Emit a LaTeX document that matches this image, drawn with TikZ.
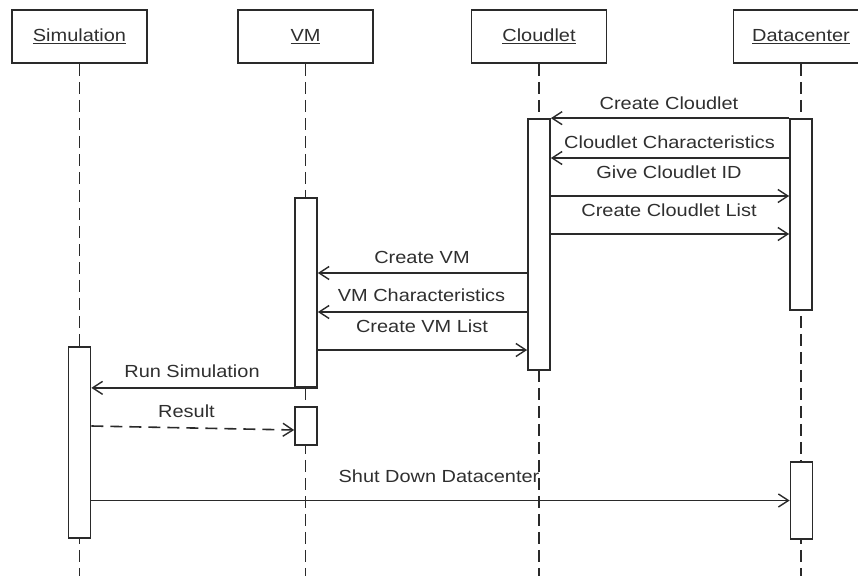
\documentclass[tikz,border=0pt]{standalone}
\usepackage{fontspec}
\setmainfont{Liberation Sans}[FakeStretch=1.14]
\usetikzlibrary{arrows.meta}
\definecolor{linec}{HTML}{2A2A2A}
\definecolor{textc}{HTML}{2F2F2F}
\begin{document}
\begin{tikzpicture}[x=1pt,y=-1pt,
  every node/.style={text=textc},
  headbox/.style={draw=linec, line width=1.7pt, fill=white, minimum width=135pt,
    minimum height=53pt, inner sep=0pt, font=\fontsize{17.5}{20}\selectfont},
  lifeline/.style={draw=linec, line width=1.8pt, dash pattern=on 12pt off 6pt},
  actbar/.style={draw=linec, line width=1.7pt, fill=white, minimum width=22pt, inner sep=0pt},
  msg/.style={draw=linec, line width=1.6pt, -{Straight Barb[length=10pt,width=13pt,line width=1.4pt]}},
  reply/.style={msg, dash pattern=on 12pt off 7pt},
  lbl/.style={anchor=base, inner sep=0pt, font=\fontsize{17.5}{20}\selectfont}]
\useasboundingbox (0,0) rectangle (858,575);
\clip (0,0) rectangle (858,575);

% participants
\node[headbox] (sim) at (79.5,36.5) {\underline{Simulation}};
\node[headbox] (vm)  at (305.5,36.5) {\underline{VM}};
\node[headbox] (cl)  at (539,36.5) {\underline{Cloudlet}};
\node[headbox] (dc)  at (801,36.5) {\underline{Datacenter}};

% lifelines
\coordinate (simend) at (79.5,580);
\coordinate (vmend) at (305.5,580);
\coordinate (clend) at (539,580);
\coordinate (dcend) at (801,580);
\draw[lifeline] (sim.south) -- (simend);
\draw[lifeline] (vm.south) -- (vmend);
\draw[lifeline] (cl.south) -- (clend);
\draw[lifeline] (dc.south) -- (dcend);

% activation bars
\node[actbar, minimum height=251pt] (clbar)  at (539,244.5) {};
\node[actbar, minimum height=191pt] (dcbar)  at (801,214.5) {};
\node[actbar, minimum height=189pt] (vmbar)  at (306,292.5) {};
\node[actbar, minimum height=38pt]  (vmbarb) at (306,426) {};
\node[actbar, minimum height=191pt] (simbar) at (79.5,442.5) {};
\node[actbar, minimum height=77pt]  (dcbarb) at (801.5,500.5) {};

% Datacenter <-> Cloudlet
\draw[msg] (dcbar.north west) -- (clbar.north east);
\node[lbl] (m1) at (669,110) {Create Cloudlet};
\draw[msg] (dcbar.west |- 0,158) -- (clbar.east |- 0,158);
\node[lbl] (m2) at (669.5,148) {Cloudlet Characteristics};
\draw[msg] (clbar.east |- 0,196) -- (dcbar.west |- 0,196);
\node[lbl] (m3) at (669,178) {Give Cloudlet ID};
\draw[msg] (clbar.east |- 0,234) -- (dcbar.west |- 0,234);
\node[lbl] (m4) at (669,216) {Create Cloudlet List};

% Cloudlet <-> VM
\draw[msg] (clbar.west |- 0,273) -- (vmbar.east |- 0,273);
\node[lbl] (m5) at (422,263) {Create VM};
\draw[msg] (clbar.west |- 0,312) -- (vmbar.east |- 0,312);
\node[lbl] (m6) at (421.5,301) {VM Characteristics};
\draw[msg] (vmbar.east |- 0,350) -- (clbar.west |- 0,350);
\node[lbl] (m7) at (422,332) {Create VM List};

% VM <-> Simulation
\draw[msg] (vmbar.south east) -- (simbar.east |- vmbar.south);
\node[lbl] (m8) at (192,377) {Run Simulation};
\draw[reply] (simbar.east |- 0,426) -- (vmbarb.west |- 0,430);
\node[lbl] (m9) at (186.5,417) {Result};

% Simulation -> Datacenter
\draw[msg] (simbar.east |- dcbarb.center) -- (dcbarb.west);
\node[lbl] (m10) at (439,482) {Shut Down Datacenter};
\end{tikzpicture}
\end{document}
